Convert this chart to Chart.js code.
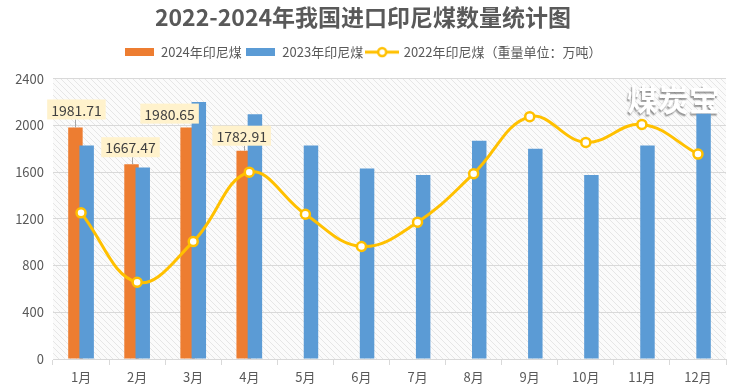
<!DOCTYPE html>
<html>
<head>
<meta charset="utf-8">
<script src="https://cdn.jsdelivr.net/npm/chart.js@4.4.0/dist/chart.umd.min.js"></script>
<style>
  html, body { margin: 0; padding: 0; background: #fff; }
  #contenedor { width: 746px; height: 391px; }
</style>
</head>
<body>
<div id="contenedor"><canvas id="graficoCarbon"></canvas></div>
<script>
// Datos (万吨)
const meses = ['1月', '2月', '3月', '4月', '5月', '6月', '7月', '8月', '9月', '10月', '11月', '12月'];
const datos2024 = [1981.71, 1667.47, 1980.65, 1782.91, null, null, null, null, null, null, null, null];
const datos2023 = [1828, 1640, 2200, 2094, 1828, 1631, 1574, 1869, 1800, 1574, 1828, 2100];
const datos2022 = [1251, 657, 1005, 1599, 1239, 963, 1171, 1586, 2074, 1854, 2008, 1754];
const nombresSeries = ['2024年印尼煤', '2023年印尼煤', '2022年印尼煤（重量单位：万吨）'];
const ticksY = [0, 400, 800, 1200, 1600, 2000, 2400];
const titulo = '2022-2024年我国进口印尼煤数量统计图';
const marcaAgua = '煤炭宝';

// desplazamiento de las etiquetas de 2024 respecto a la punta de la barra
const desplazamientoEtiquetas = [[1, -18], [-1, -17], [-18, -14], [-2, -15]];

const colorNaranja = '#ED7D31';
const colorAzul = '#5B9BD5';
const colorAmarillo = '#FFC000';
const colorTexto = '#595959';
const fuente = '"Noto Sans CJK SC", "Noto Sans", sans-serif';

// iconos de la leyenda
function iconoBarra(color) {
    let c = document.createElement('canvas');
    c.width = 29; c.height = 8;
    let g = c.getContext('2d');
    g.fillStyle = color;
    g.fillRect(0, 0, 29, 8);
    return c;
}
function iconoLinea() {
    let c = document.createElement('canvas');
    c.width = 34; c.height = 12;
    let g = c.getContext('2d');
    g.strokeStyle = colorAmarillo;
    g.lineWidth = 3;
    g.beginPath(); g.moveTo(0, 6); g.lineTo(34, 6); g.stroke();
    g.beginPath(); g.arc(17, 6, 4, 0, Math.PI * 2);
    g.fillStyle = '#fff'; g.fill();
    g.lineWidth = 2.5; g.stroke();
    return c;
}
const iconosLeyenda = [iconoBarra(colorNaranja), iconoBarra(colorAzul), iconoLinea()];

// fondo rayado del area del grafico
function patronRayado() {
    let c = document.createElement('canvas');
    c.width = 6; c.height = 6;
    let g = c.getContext('2d');
    g.fillStyle = '#fbfbfb';
    g.fillRect(0, 0, 6, 6);
    g.strokeStyle = '#e6e6e6';
    g.lineWidth = 1;
    g.beginPath();
    g.moveTo(-1, -1); g.lineTo(7, 7);
    g.moveTo(-7, -1); g.lineTo(1, 7);
    g.moveTo(5, -1); g.lineTo(13, 7);
    g.stroke();
    return c;
}

const fondoRayado = {
    id: 'fondoRayado',
    beforeDraw(chart) {
        const { ctx, chartArea } = chart;
        ctx.save();
        ctx.fillStyle = ctx.createPattern(patronRayado(), 'repeat');
        ctx.fillRect(chartArea.left, chartArea.top, chartArea.right - chartArea.left, chartArea.bottom - chartArea.top);
        ctx.restore();
    },
    beforeDatasetsDraw(chart) {
        const { ctx, chartArea } = chart;
        ctx.save();
        ctx.font = 'bold 31px ' + fuente;
        ctx.textAlign = 'right';
        ctx.textBaseline = 'middle';
        ctx.shadowColor = 'rgba(0,0,0,0.4)';
        ctx.shadowBlur = 1.5;
        ctx.shadowOffsetX = -1;
        ctx.shadowOffsetY = 1.5;
        ctx.fillStyle = '#ffffff';
        ctx.fillText(marcaAgua, chartArea.right - 6, chartArea.top + 21);
        ctx.restore();
    }
};

// la serie naranja se dibuja antes que la azul (la azul queda encima)
const ordenBarras = {
    id: 'ordenBarras',
    beforeDatasetDraw(chart, args) {
        if (args.index === 1) {
            chart.getDatasetMeta(0).controller.draw();
        }
        if (args.index === 0) return false;
    }
};

// etiquetas de valor de 2024
const etiquetas2024 = {
    id: 'etiquetas2024',
    afterDatasetsDraw(chart) {
        const ctx = chart.ctx;
        const meta = chart.getDatasetMeta(0);
        ctx.save();
        ctx.font = '14px ' + fuente;
        ctx.textAlign = 'center';
        ctx.textBaseline = 'middle';
        meta.data.forEach((barra, i) => {
            if (datos2024[i] === null) return;
            let d = desplazamientoEtiquetas[i] || [0, -18];
            let cx = barra.x + d[0];
            let cy = barra.y + d[1];
            let texto = datos2024[i].toFixed(2);
            let ancho = ctx.measureText(texto).width + 8;
            let alto = 20;
            if (barra.y - (cy + alto / 2) > 4) {
                ctx.strokeStyle = '#a6a6a6';
                ctx.lineWidth = 1;
                ctx.beginPath();
                ctx.moveTo(Math.round(barra.x) + 0.5, cy + alto / 2);
                ctx.lineTo(Math.round(barra.x) + 0.5, barra.y);
                ctx.stroke();
            }
            ctx.fillStyle = '#FFF2CC';
            ctx.fillRect(cx - ancho / 2, cy - alto / 2, ancho, alto);
            ctx.fillStyle = '#404040';
            ctx.fillText(texto, cx, cy + 1);
        });
        ctx.restore();
    }
};

// espacio extra bajo la leyenda
const espacioLeyenda = {
    id: 'espacioLeyenda',
    afterInit(chart) {
        const leyenda = chart.legend;
        const ajusteOriginal = leyenda.fit;
        leyenda.fit = function () {
            ajusteOriginal.call(this);
            this.height += 10;
        };
    }
};

var ctx = document.getElementById('graficoCarbon').getContext('2d');

var data = {
    labels: meses,
    datasets: [{
        type: 'bar',
        label: nombresSeries[0],
        data: datos2024,
        backgroundColor: colorNaranja,
        order: 1
    }, {
        type: 'bar',
        label: nombresSeries[1],
        data: datos2023,
        backgroundColor: colorAzul,
        order: 2
    }, {
        type: 'line',
        label: nombresSeries[2],
        data: datos2022,
        borderColor: colorAmarillo,
        borderWidth: 3,
        tension: 0.4,
        pointStyle: 'circle',
        pointRadius: 4.5,
        pointBorderWidth: 2.5,
        pointBackgroundColor: '#ffffff',
        pointBorderColor: colorAmarillo,
        order: 0
    }]
};

var options = {
    responsive: true,
    maintainAspectRatio: false,
    animation: false,
    layout: { padding: { left: 0, right: 20, top: 0, bottom: 0 } },
    datasets: {
        bar: { categoryPercentage: 0.4, barPercentage: 1.29 }
    },
    plugins: {
        title: {
            display: true,
            text: titulo,
            color: colorTexto,
            font: { family: fuente, size: 23, weight: 'bold' },
            padding: { top: 3, bottom: 11 }
        },
        legend: {
            display: true,
            labels: {
                usePointStyle: true,
                pointStyleWidth: 30,
                padding: 4,
                color: colorTexto,
                font: { family: fuente, size: 13 },
                sort: (a, b) => a.datasetIndex - b.datasetIndex,
                generateLabels(chart) {
                    let items = Chart.defaults.plugins.legend.labels.generateLabels(chart);
                    items.forEach(item => {
                        item.pointStyle = iconosLeyenda[item.datasetIndex];
                        item.lineWidth = 0;
                    });
                    return items;
                }
            }
        },
        tooltip: { enabled: false }
    },
    scales: {
        x: {
            offset: true,
            grid: {
                display: true,
                drawOnChartArea: false,
                color: '#d9d9d9',
                tickLength: 6,
                offset: true
            },
            border: { color: '#d9d9d9', width: 1 },
            ticks: {
                color: colorTexto,
                padding: 4,
                font: { family: fuente, size: 13 }
            },
            afterFit(scale) { scale.height = 32; }
        },
        y: {
            min: 0,
            max: 2400,
            afterBuildTicks(scale) {
                scale.ticks = ticksY.map(v => ({ value: v }));
            },
            grid: { color: '#d9d9d9', drawTicks: false },
            border: { display: false },
            ticks: {
                color: colorTexto,
                padding: 9,
                font: { family: fuente, size: 13 },
                callback: v => String(v)
            },
            afterFit(scale) { scale.width = 53; }
        }
    }
};

var miGrafico = new Chart(ctx, {
    data: data,
    options: options,
    plugins: [espacioLeyenda, fondoRayado, ordenBarras, etiquetas2024]
});
</script>
</body>
</html>
